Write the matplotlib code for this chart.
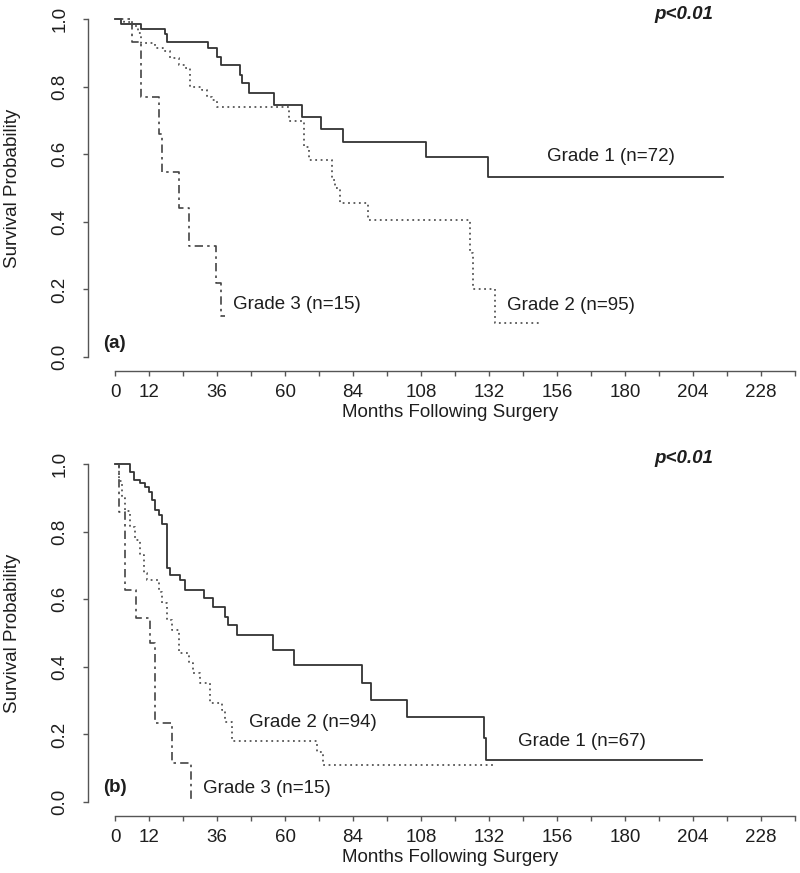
import matplotlib
matplotlib.use('Agg')
import matplotlib.pyplot as plt

plt.rcParams['font.family'] = ['Liberation Sans', 'DejaVu Sans']

# ---- (a) panel : months / survival ----
a_g1_t = [0, 2, 9, 17.6, 18.4, 32.6, 35.9, 37.3, 43.9, 44.7, 47.4, 56.1, 65.9, 72.6, 80.4, 109.8, 131.5, 214.7]
a_g1_s = [1.0, 0.985, 0.97, 0.957, 0.933, 0.913, 0.889, 0.864, 0.834, 0.81, 0.782, 0.747, 0.711, 0.676, 0.637, 0.593, 0.533, 0.533]

a_g2_t = [0, 3, 6, 8, 9, 14.1, 17, 19.4, 22.4, 24.7, 26.5, 30.6, 32.4, 34.1, 35.9, 61.5, 66.7, 68.6,
          76.5, 77.6, 79.4, 89.4, 125.3, 126.2, 134.1, 150]
a_g2_s = [1.0, 0.99, 0.98, 0.96, 0.93, 0.913, 0.904, 0.884, 0.864, 0.854, 0.80, 0.79, 0.77, 0.76, 0.739, 0.699, 0.622, 0.583,
          0.524, 0.499, 0.455, 0.405, 0.307, 0.2, 0.1, 0.1]

a_g3_t = [0, 6.1, 9.0, 15.3, 16.5, 22.6, 25.9, 35.5, 37.3, 38.8]
a_g3_s = [1.0, 0.933, 0.77, 0.66, 0.548, 0.44, 0.328, 0.218, 0.12, 0.12]

# ---- (b) panel ----
b_g1_t = [0, 5.3, 6.5, 8.8, 10.6, 11.8, 12.9, 14.1, 15.6, 16.5, 18.2, 19.4, 22.9, 24.7, 31.2, 34.7, 38.8, 40,
          42.9, 55.9, 63.3, 87.3, 90.2, 103.2, 130.4, 131, 207.1]
b_g1_s = [1.0, 0.977, 0.953, 0.943, 0.933, 0.918, 0.893, 0.864, 0.849, 0.824, 0.691, 0.672, 0.657, 0.627, 0.603, 0.578, 0.548, 0.524,
          0.494, 0.45, 0.405, 0.353, 0.302, 0.252, 0.188, 0.124, 0.124]

b_g2_t = [0, 1.5, 2.5, 3.5, 5.4, 7.1, 8.8, 10, 11.2, 15.3, 16.5, 18.2, 20, 22.4, 25.9, 27.6, 30, 33.5,
          37.6, 38.8, 41.2, 71.2, 73.3, 133.5]
b_g2_s = [1.0, 0.95, 0.90, 0.86, 0.815, 0.775, 0.731, 0.677, 0.657, 0.622, 0.588, 0.538, 0.509, 0.44, 0.41, 0.381, 0.351, 0.292,
          0.272, 0.238, 0.181, 0.149, 0.109, 0.109]

b_g3_t = [0, 1.2, 3.5, 7.4, 12.4, 14.1, 20, 26.7]
b_g3_s = [1.0, 0.859, 0.627, 0.543, 0.469, 0.233, 0.116, 0.0]

x_ticks = list(range(0, 241, 12))
x_shown = [0, 12, 36, 60, 84, 108, 132, 156, 180, 204, 228]
y_ticks = [0.0, 0.2, 0.4, 0.6, 0.8, 1.0]

TXT = '#1e1e1e'
AX = '#555555'
FS = 13.5

styles = {
    'g1': dict(color='#333333', lw=1.3, ls='-'),
    'g2': dict(color='#555555', lw=1.3, ls=(0, (1, 2))),
    'g3': dict(color='#444444', lw=1.2, ls=(0, (5, 2.5, 1.5, 2.5))),
}


def setup_axis(ax):
    ax.set_xlim(-9.6, 249.6)
    ax.set_ylim(-0.04, 1.04)
    for s in ['top', 'right']:
        ax.spines[s].set_visible(False)
    ax.spines['left'].set_bounds(0, 1)
    ax.spines['bottom'].set_bounds(0, 240)
    for s in ['left', 'bottom']:
        ax.spines[s].set_color(AX)
        ax.spines[s].set_linewidth(1.0)
    ax.set_xticks(x_ticks)
    ax.set_xticklabels([str(v) if v in x_shown else '' for v in x_ticks])
    ax.set_yticks(y_ticks)
    ax.set_yticklabels(['%.1f' % v for v in y_ticks])
    ax.tick_params(axis='both', direction='out', length=3.6, width=1.0, color=AX,
                   labelsize=FS, labelcolor=TXT)
    ax.tick_params(axis='x', pad=5.8)
    ax.tick_params(axis='y', pad=10.4, labelrotation=90)
    for lab in ax.get_yticklabels():
        lab.set_va('center')
    ax.set_xlabel('Months Following Surgery', fontsize=FS, color=TXT)
    ax.xaxis.set_label_coords(0.493, -0.114)
    ax.xaxis.label.set_va('center')
    ax.set_ylabel('Survival Probability', fontsize=FS, color=TXT)
    ax.yaxis.set_label_coords(-0.1035, 0.5)
    ax.yaxis.label.set_va('center')


fig = plt.figure(figsize=(8, 8.73), dpi=100)
ax1 = fig.add_axes([88 / 800, (873 - 370.5) / 873, 734 / 800, 365 / 873])
ax2 = fig.add_axes([88 / 800, (873 - 815.5) / 873, 734 / 800, 365 / 873])

# panel (a)
ax1.step(a_g1_t, a_g1_s, where='post', **styles['g1'])
ax1.step(a_g2_t, a_g2_s, where='post', **styles['g2'])
ax1.step(a_g3_t, a_g3_s, where='post', **styles['g3'])
setup_axis(ax1)
ax1.text(152.4, 0.592, 'Grade 1 (n=72)', fontsize=FS, color=TXT, va='center')
ax1.text(138.3, 0.151, 'Grade 2 (n=95)', fontsize=FS, color=TXT, va='center')
ax1.text(41.6, 0.154, 'Grade 3 (n=15)', fontsize=FS, color=TXT, va='center')
ax1.text(200.8, 1.012, 'p<0.01', fontsize=FS, color=TXT, ha='center', va='center',
         fontweight='bold', fontstyle='italic')
ax1.text(-4.2, 0.041, '(a)', fontsize=FS, color=TXT, va='center', fontweight='bold')

# panel (b)
ax2.step(b_g1_t, b_g1_s, where='post', **styles['g1'])
ax2.step(b_g2_t, b_g2_s, where='post', **styles['g2'])
ax2.step(b_g3_t, b_g3_s, where='post', **styles['g3'])
setup_axis(ax2)
ax2.text(142.2, 0.180, 'Grade 1 (n=67)', fontsize=FS, color=TXT, va='center')
ax2.text(47.3, 0.234, 'Grade 2 (n=94)', fontsize=FS, color=TXT, va='center')
ax2.text(31.1, 0.041, 'Grade 3 (n=15)', fontsize=FS, color=TXT, va='center')
ax2.text(200.8, 1.015, 'p<0.01', fontsize=FS, color=TXT, ha='center', va='center',
         fontweight='bold', fontstyle='italic')
ax2.text(-4.2, 0.044, '(b)', fontsize=FS, color=TXT, va='center', fontweight='bold')

fig.savefig('out.png', dpi=100)
